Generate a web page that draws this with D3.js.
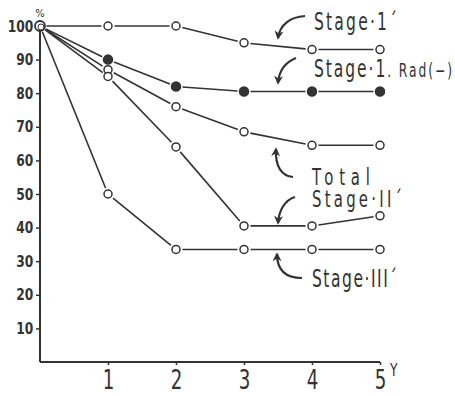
<!DOCTYPE html>
<html>
<head>
<meta charset="utf-8">
<script src="https://cdn.jsdelivr.net/npm/d3@7"></script>
<style>
  body { margin: 0; background: #fff; }
  svg { display: block; }
  text { font-family: "Liberation Sans Narrow", "DejaVu Sans Condensed", "Roboto", sans-serif; fill: #333; }
</style>
</head>
<body>
<svg id="chart"></svg>
<script>
// years after treatment
const years = [0, 1, 2, 3, 4, 5];

// survival %
const stage1 = [100, 100, 100, 95, 93, 93];
const stage1Rad = [100, 90, 82, 80.5, 80.5, 80.5];
const total = [100, 87, 76, 68.5, 64.5, 64.5];
const stage2 = [100, 85, 64, 40.5, 40.5, 43.5];
const stage3 = [100, 50, 33.5, 33.5, 33.5, 33.5];

const yTicks = [10, 20, 30, 40, 50, 60, 70, 80, 90, 100];
const xTicks = [1, 2, 3, 4, 5];

const series = [
  { name: 'stage1', values: stage1, filled: false },
  { name: 'stage1Rad', values: stage1Rad, filled: true },
  { name: 'total', values: total, filled: false },
  { name: 'stage2', values: stage2, filled: false },
  { name: 'stage3', values: stage3, filled: false }
];

const width = 455, height = 396;
const ink = '#333';
const squeeze = 0.72; // narrow lettering like the printed figure

const svg = d3.select('#chart')
  .attr('width', width)
  .attr('height', height);

const x = d3.scaleLinear().domain([0, 5]).range([40, 380]);
const y = d3.scaleLinear().domain([0, 100]).range([362, 26]);

const axisY = svg.append('g').attr('transform', 'translate(' + x(0) + ',0)')
  .call(d3.axisLeft(y).tickValues(yTicks).tickSize(4).tickPadding(4));
axisY.select('.domain').attr('d', 'M0,' + y(0) + 'V' + y(100))
  .attr('stroke', ink).attr('stroke-width', 2);
axisY.selectAll('line').attr('stroke', ink).attr('stroke-width', 1.5);
axisY.selectAll('text')
  .style('font-size', '16px').style('font-weight', 'bold').attr('fill', '#444')
  .attr('transform', 'scale(0.85,1)');

const axisX = svg.append('g').attr('transform', 'translate(0,' + y(0) + ')')
  .call(d3.axisBottom(x).tickValues(xTicks).tickFormat(d3.format('d')).tickSize(3).tickPadding(5));
axisX.select('.domain').attr('d', 'M' + x(0) + ',0H' + x(5))
  .attr('stroke', ink).attr('stroke-width', 2);
axisX.selectAll('line').attr('stroke', ink).attr('stroke-width', 1.5);
axisX.selectAll('text')
  .style('font-size', '27px').attr('fill', '#333')
  .attr('transform', 'scale(0.75,1)');

// unit labels
svg.append('text').attr('x', x(0)).attr('y', 17).attr('text-anchor', 'middle')
  .style('font-size', '11px').attr('fill', '#666').text('%');
svg.append('text').attr('x', x(5) + 10).attr('y', 376).attr('text-anchor', 'start')
  .style('font-size', '17px').attr('transform', 'translate(' + (x(5) + 10) + ',0) scale(0.8,1) translate(' + -(x(5) + 10) + ',0)')
  .text('Y');

// line segments with a small gap at each marker
const r = 4;
const gap = r + 2.5;
series.forEach(s => {
  const pts = years.map((t, i) => [x(t), y(s.values[i])]);
  for (let i = 0; i < pts.length - 1; i++) {
    const [x1, y1] = pts[i], [x2, y2] = pts[i + 1];
    const len = Math.hypot(x2 - x1, y2 - y1);
    const ux = (x2 - x1) / len, uy = (y2 - y1) / len;
    svg.append('line')
      .attr('x1', x1 + ux * gap).attr('y1', y1 + uy * gap)
      .attr('x2', x2 - ux * gap).attr('y2', y2 - uy * gap)
      .attr('stroke', ink).attr('stroke-width', 1.6);
  }
  svg.append('g').selectAll('circle')
    .data(years.slice(1))
    .enter().append('circle')
    .attr('cx', d => x(d))
    .attr('cy', (d, i) => y(s.values[i + 1]))
    .attr('r', s.filled ? 4.5 : r)
    .attr('fill', s.filled ? ink : '#fff')
    .attr('stroke', ink)
    .attr('stroke-width', 1.5);
});

// shared starting point
svg.append('circle').attr('cx', x(0)).attr('cy', y(100)).attr('r', 5)
  .attr('fill', '#fff').attr('stroke', ink).attr('stroke-width', 1.8);
svg.append('circle').attr('cx', x(0) + 1).attr('cy', y(100) + 1).attr('r', 3)
  .attr('fill', 'none').attr('stroke', ink).attr('stroke-width', 1);

// curved arrows pointing at the lines
svg.append('defs').append('marker')
  .attr('id', 'head')
  .attr('viewBox', '0 0 10 10')
  .attr('refX', 8).attr('refY', 5)
  .attr('markerWidth', 9).attr('markerHeight', 9)
  .attr('markerUnits', 'userSpaceOnUse')
  .attr('orient', 'auto')
  .append('path').attr('d', 'M0,0L10,5L0,10L3,5z').attr('fill', ink);

const arrows = [
  'M305,16C291,17 280,24 278,38',
  'M296,58C286,62 279,70 278,83',
  'M293,177C282,176 275,167 276,149',
  'M295,197C285,200 279,210 278,223',
  'M302,278C288,278 277,272 277,254'
];
svg.append('g').selectAll('path')
  .data(arrows)
  .enter().append('path')
  .attr('d', d => d)
  .attr('fill', 'none')
  .attr('stroke', ink)
  .attr('stroke-width', 2.2)
  .attr('marker-end', 'url(#head)');

// series labels: narrow glyphs, spread out to the printed width
function label(lx, ly, w, parts) {
  const t = svg.append('g')
    .attr('transform', 'translate(' + lx + ',' + ly + ') scale(' + squeeze + ',1)')
    .append('text')
    .attr('x', 0).attr('y', 0)
    .attr('textLength', w / squeeze).attr('lengthAdjust', 'spacing');
  parts.forEach(p => t.append('tspan').style('font-size', p[1]).text(p[0]));
}

label(314, 30, 83, [['Stage·1´', '24px']]);
label(314, 77, 138, [['Stage·1', '24px'], ['. Rad(−)', '19px']]);
label(312, 185, 58, [['Total', '23px']]);
label(312, 207, 90, [['Stage·II´', '23px']]);
label(312, 287, 85, [['Stage·III´', '24px']]);
</script>
</body>
</html>
